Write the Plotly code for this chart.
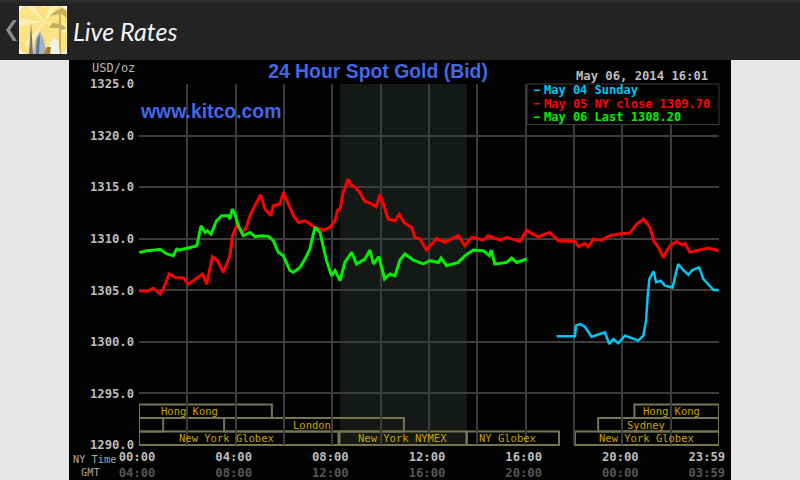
import plotly.graph_objects as go

# ---------- data ----------
blue_h = [17.28,18.04,18.08,18.25,18.45,18.73,19.07,19.28,19.46,19.63,19.83,20.11,20.38,20.66,20.87,20.98,21.05,21.12,21.29,21.4,21.59,21.76,22.08,22.2,22.31,22.52,22.73,22.9,23.18,23.35,23.56,23.77,23.99]
blue_v = [1300.54,1300.54,1301.57,1301.73,1301.47,1300.5,1300.76,1300.92,1299.79,1300.28,1299.86,1300.6,1300.37,1300.12,1300.6,1302.05,1304.48,1306.1,1306.83,1305.77,1305.93,1305.45,1305.28,1306.58,1307.55,1306.97,1306.51,1306.97,1307.22,1306.1,1305.61,1305.03,1305.03]

red_h = [0.0,0.32,0.6,0.87,1.0,1.25,1.49,1.84,2.04,2.32,2.63,2.8,3.04,3.25,3.49,3.65,3.76,3.87,4.07,4.25,4.41,4.62,4.85,5.03,5.21,5.45,5.56,5.83,5.97,6.18,6.39,6.59,6.87,7.08,7.28,7.63,7.9,8.11,8.21,8.32,8.45,8.66,8.73,8.94,9.14,9.35,9.56,9.81,9.97,10.11,10.31,10.59,10.77,10.96,11.28,11.42,11.62,11.9,12.32,12.66,13.21,13.49,13.76,14.25,14.45,14.94,15.21,15.76,16.04,16.18,16.52,17.0,17.35,18.04,18.2,18.45,18.59,18.8,19.14,19.49,19.83,20.31,20.59,20.89,21.14,21.31,21.49,21.69,21.97,22.25,22.46,22.59,22.8,23.07,23.56,23.98]
red_v = [1304.96,1304.9,1305.2,1304.64,1305.1,1306.58,1306.25,1306.2,1305.6,1306.1,1306.58,1305.6,1308.26,1307.87,1306.74,1307.7,1308.35,1310.29,1311.42,1310.61,1310.94,1312.39,1313.52,1314.26,1312.87,1312.23,1313.2,1313.36,1314.49,1313.36,1312.23,1311.58,1311.74,1311.42,1311.1,1310.84,1311.1,1311.74,1312.71,1312.87,1314.49,1315.78,1315.3,1314.97,1314.49,1313.62,1313.46,1313.1,1314.26,1313.36,1311.9,1311.74,1312.39,1311.58,1311.1,1310.13,1310.0,1308.9,1310.03,1309.64,1310.29,1309.32,1310.13,1309.87,1310.29,1309.87,1310.13,1309.74,1310.84,1310.61,1310.19,1310.61,1309.81,1309.74,1309.22,1309.55,1309.22,1309.97,1309.86,1310.29,1310.45,1310.55,1311.42,1311.9,1311.1,1309.74,1309.16,1308.19,1309.32,1309.74,1309.42,1309.55,1308.68,1308.84,1309.1,1308.84]

green_h = [0.01,0.32,0.66,0.87,1.15,1.42,1.56,1.7,2.04,2.39,2.57,2.73,2.83,2.98,3.21,3.42,3.7,3.76,3.86,3.97,4.11,4.32,4.59,4.8,5.07,5.35,5.56,5.76,5.97,6.25,6.38,6.66,6.87,7.07,7.28,7.49,7.76,7.97,8.11,8.32,8.52,8.8,9.0,9.35,9.56,9.7,9.93,10.16,10.39,10.59,10.8,11.0,11.35,11.76,12.04,12.39,12.5,12.73,13.21,13.49,13.83,14.25,14.5,14.57,14.73,15.21,15.42,15.63,16.04]
green_v = [1308.67,1308.84,1308.9,1308.97,1308.52,1308.35,1309.0,1308.9,1309.1,1309.32,1311.26,1310.61,1310.78,1310.45,1311.74,1312.23,1312.23,1311.9,1312.87,1312.39,1311.26,1310.29,1310.61,1310.19,1310.29,1310.23,1309.81,1308.68,1308.35,1306.9,1306.74,1307.22,1308.03,1309.0,1311.1,1310.61,1307.87,1306.41,1306.9,1305.93,1307.7,1308.68,1307.55,1308.03,1308.9,1307.55,1308.26,1306.1,1306.58,1306.41,1307.93,1308.52,1307.93,1307.55,1307.87,1307.7,1308.13,1307.38,1307.7,1308.35,1308.9,1308.84,1308.35,1308.9,1307.55,1307.7,1308.13,1307.7,1308.03]

series_names = ["May 04 Sunday", "May 05 NY close 1309.70", "May 06 Last 1308.20"]
series_colors = ["#00c8f5", "#ff0000", "#00f000"]

y_ticks = [1290, 1295, 1300, 1305, 1310, 1315, 1320, 1325]
ny_ticks = ["00:00", "04:00", "08:00", "12:00", "16:00", "20:00", "23:59"]
gmt_ticks = ["04:00", "08:00", "12:00", "16:00", "20:00", "00:00", "03:59"]
x_tick_hours = [0, 4, 8, 12, 16, 20, 23.58]
x_grid_hours = [0, 2, 4, 6, 8, 10, 12, 14, 16, 18, 20, 22, 24]

session_names = ["Hong Kong", "", "London", "New York Globex", "New York NYMEX", "NY Globex", "New York Globex", "Sydney", "Hong Kong"]
session_start = [0, 0, 3.52, 0, 8.3, 13.57, 18.04, 19.0, 20.5]
session_end = [5.5, 1.0, 10.96, 8.25, 13.55, 17.38, 24, 24, 24]
session_row = [0, 1, 1, 2, 2, 2, 2, 1, 0]
session_label_at = [2.11, 0, 7.16, 3.64, 10.92, 15.23, 20.98, 20.98, 22.05]
shade_start, shade_end = 8.32, 13.57

# ---------- page geometry ----------
L, R, T, B = 139, 719, 84, 445
MONO = "DejaVu Sans Mono"
def px(x): return (x - L) / (R - L)
def py(y): return (B - y) / (B - T)

def rect(x0, y0, x1, y1, fill, line=None, lw=0, layer="below"):
    return dict(type="rect", xref="paper", yref="paper", x0=px(x0), x1=px(x1), y0=py(y0), y1=py(y1),
                fillcolor=fill, line=dict(color=line or fill, width=lw), layer=layer)

def poly(pts, fill, line=None, lw=0):
    d = "M " + " L ".join(f"{px(a):.5f} {py(b):.5f}" for a, b in pts) + " Z"
    return dict(type="path", xref="paper", yref="paper", path=d, fillcolor=fill,
                line=dict(color=line or fill, width=lw), layer="below")

def stroke(pts, color, lw=1):
    d = "M " + " L ".join(f"{px(a):.5f} {py(b):.5f}" for a, b in pts)
    return dict(type="path", xref="paper", yref="paper", path=d, line=dict(color=color, width=lw), layer="below")

def label(x, y, text, color, size=12, anchor="left", weight=400, family=MONO, italic=False):
    return dict(xref="paper", yref="paper", x=px(x), y=py(y), text=text, showarrow=False, xanchor=anchor,
                yanchor="middle", font=dict(family=family, size=size, color=color, weight=weight,
                style="italic" if italic else "normal"))

shapes = [
    rect(69, 60, 731, 480, "#020203"),
    rect(0, 0, 800, 60, "#232323"),
    rect(0, 0, 800, 2, "#2c2c2c"),
    poly([(17, 20), (10, 30), (17, 41), (13, 41), (6, 30), (13, 20)], "#8a8a8a"),
    # icon
    rect(19, 6, 67, 54, "#ffffff"),
    poly([(25, 6), (61, 6), (65, 8), (67, 12), (67, 48), (65, 52), (61, 54), (25, 54), (21, 52), (19, 48), (19, 12), (21, 8)], "#fbe285"),
    poly([(44, 8), (41, 6), (47, 6)], "#fdf0b4"),
    poly([(44, 22), (26, 6), (34, 6)], "#fdf0b4"),
    poly([(44, 22), (50, 6), (58, 6)], "#fdf0b4"),
    poly([(44, 22), (19, 18), (19, 26)], "#fdf0b4"),
    poly([(44, 22), (67, 26), (67, 34)], "#fdf0b4"),
    poly([(44, 22), (24, 44), (30, 48)], "#fdf0b4"),
    poly([(29, 54), (31, 22), (33, 54)], "#7d7a6a"),
    poly([(33, 54), (36, 38), (40, 31), (44, 40), (47, 54)], "#a4b2c6"),
    poly([(36, 54), (37, 40), (40, 34), (39, 54)], "#66748c"),
    stroke([(60, 54), (60, 14)], "#c6ae5e", 2),
    poly([(60, 14), (50, 16), (54, 12), (62, 8), (66, 10), (67, 18), (62, 14)], "#c6ae5e"),
    poly([(58, 28), (49, 28), (52, 23), (60, 24), (67, 28), (62, 30)], "#c6ae5e"),
    poly([(47, 54), (50, 44), (54, 37), (58, 41), (60, 54)], "#f4f1e6"),
    poly([(44, 54), (47, 47), (51, 47), (50, 54)], "#a87f20"),
    # trading-session shading
    dict(type="rect", xref="x", yref="paper", x0=shade_start, x1=shade_end, y0=0, y1=1,
         fillcolor="#151915", line=dict(width=0), layer="below"),
]

row_y = [(404.5, 418), (418, 431.5), (431.5, 445)]
for a, b, r in zip(session_start, session_end, session_row):
    shapes.append(dict(type="rect", xref="x", yref="paper", x0=a, x1=b, y0=py(row_y[r][1]), y1=py(row_y[r][0]),
                       line=dict(color="#757550", width=2), layer="below"))

# legend box and its dashes
shapes.append(rect(527, 84, 719, 124.5, "#020203", "#3c3c3c", 1, "above"))
for i, c in enumerate(series_colors):
    shapes.append(rect(534, 89.5 + 13.5 * i, 540, 91 + 13.5 * i, c, layer="above"))

annotations = [
    label(71, 31, "Live Rates", "#f4f4f4", 25, family="Lato", italic=True),
    label(137, 68, "USD/oz", "#b8b8b8", 12, "right"),
    label(574, 76, "May 06, 2014 16:01", "#bdbdbd", 12.2, weight=700),
    label(138, 111, "www.kitco.com", "#4169e8", 19.4, weight=700, family="Liberation Sans"),
    label(118, 459, "NY Time", "#a8a8a8", 10.3, "right"),
    label(102, 472, "GMT", "#a8a8a8", 10.3, "right"),
]
for i, (n, c) in enumerate(zip(series_names, series_colors)):
    annotations.append(label(541.5, 90 + 13.5 * i, n, c, 12, weight=700))
for n, at, r in zip(session_names, session_label_at, session_row):
    if n:
        annotations.append(dict(xref="x", yref="paper", x=at, y=py(sum(row_y[r]) / 2), text=n, showarrow=False,
                                yanchor="middle", font=dict(family=MONO, size=10.5, color="#c9a200")))

ticktext = [f"{a}<br><span style='color:#565656'>{b}</span>" for a, b in zip(ny_ticks, gmt_ticks)]

fig = go.Figure()
for h, v, n, c, w in [(blue_h, blue_v, series_names[0], series_colors[0], 2.5),
                      (red_h, red_v, series_names[1], series_colors[1], 3),
                      (green_h, green_v, series_names[2], series_colors[2], 3)]:
    fig.add_trace(go.Scatter(x=h, y=v, name=n, mode="lines", line=dict(color=c, width=w), showlegend=False))

fig.update_layout(
    width=800, height=480, autosize=False,
    margin=dict(l=L, r=800 - R, t=T, b=480 - B, pad=0),
    paper_bgcolor="#e6e6e6", plot_bgcolor="rgba(0,0,0,0)",
    showlegend=False,
    title=dict(text="24 Hour Spot Gold (Bid)", x=378 / 800, y=1 - 71 / 480, xanchor="center", yanchor="middle",
               font=dict(family="Liberation Sans", size=19.4, color="#4169e8", weight=700)),
    xaxis=dict(range=[0, 24], tickmode="array", tickvals=x_tick_hours, ticktext=ticktext, ticks="", automargin=False,
               showgrid=False, zeroline=False, showline=False, ticklabelstandoff=3, ticklabelshift=-2,
               minor=dict(tickmode="array", tickvals=x_grid_hours, showgrid=True, gridcolor="#3c3c3c", gridwidth=1.5, ticks=""),
               tickangle=0, tickfont=dict(family=MONO, size=12.2, color="#bdbdbd", weight=700)),
    yaxis=dict(range=[1290, 1325], tickmode="array", tickvals=y_ticks, ticktext=[f"{v:.1f}" for v in y_ticks], ticks="", automargin=False,
               showgrid=True, gridcolor="#3c3c3c", gridwidth=1.5, zeroline=False, showline=False, ticklabelstandoff=4,
               tickfont=dict(family=MONO, size=12.2, color="#bdbdbd", weight=700)),
    shapes=shapes, annotations=annotations,
)
fig.write_html("out.html", config={"displayModeBar": False},
               post_script="document.body.style.margin='0';document.body.style.overflow='hidden';")
